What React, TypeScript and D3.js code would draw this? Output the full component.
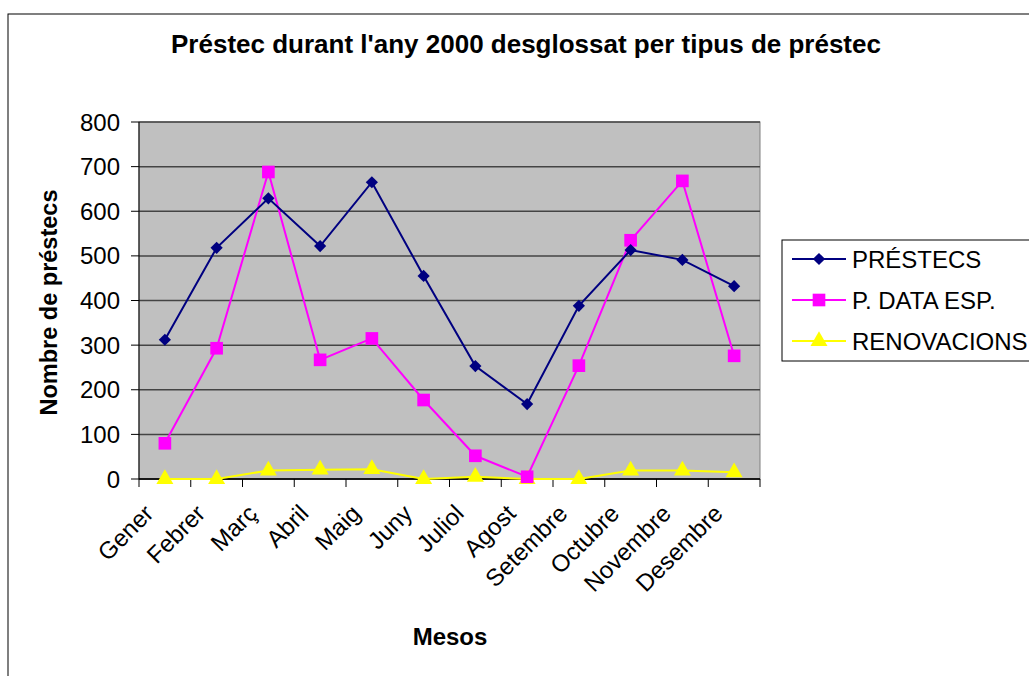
import React from "react";
import * as d3 from "d3";

const months = ["Gener", "Febrer", "Març", "Abril", "Maig", "Juny", "Juliol", "Agost", "Setembre", "Octubre", "Novembre", "Desembre"];
const prestecs = [312, 518, 629, 522, 665, 455, 253, 168, 388, 513, 491, 432];
const dataEsp = [80, 293, 688, 267, 315, 177, 52, 5, 254, 535, 668, 276];
const renovacions = [0, 0, 19, 21, 22, 0, 5, 0, 0, 19, 19, 15];
const yTicks = [0, 100, 200, 300, 400, 500, 600, 700, 800];

const W = 1029;
const H = 676;
const plot = { left: 139, right: 760, top: 122, bottom: 479 };
const FONT = "'Liberation Sans', Arial, sans-serif";

type Marker = "diamond" | "square" | "triangle";

const series: { name: string; values: number[]; color: string; marker: Marker }[] = [
  { name: "PRÉSTECS", values: prestecs, color: "#000080", marker: "diamond" },
  { name: "P. DATA ESP.", values: dataEsp, color: "#FF00FF", marker: "square" },
  { name: "RENOVACIONS", values: renovacions, color: "#FFFF00", marker: "triangle" },
];

const symbolFor = (m: Marker) => {
  if (m === "diamond") return d3.symbol().type(d3.symbolDiamond2).size(95)();
  if (m === "square") return d3.symbol().type(d3.symbolSquare).size(160)();
  return d3.symbol().type(d3.symbolTriangle).size(125)();
};

export default function App() {
  const x = d3.scaleBand<string>().domain(months).range([plot.left, plot.right]);
  const y = d3.scaleLinear().domain([0, 800]).range([plot.bottom, plot.top]);
  const cx = (m: string) => (x(m) ?? 0) + x.bandwidth() / 2;
  const line = d3
    .line<number>()
    .x((_, i) => cx(months[i]))
    .y((d) => y(d));

  const boundaries = months.map((m) => x(m) ?? 0).concat([plot.right]);

  return (
    <svg width={W} height={H} style={{ position: "absolute", left: 0, top: 0, background: "#fff" }} fontFamily={FONT}>
      <rect x={8} y={14} width={W + 10} height={H + 10} fill="#fff" stroke="#000" strokeWidth={1} />

      <text x={526} y={53} textAnchor="middle" fontSize={26} fontWeight="bold">
        Préstec durant l'any 2000 desglossat per tipus de préstec
      </text>

      {/* plot area */}
      <rect x={plot.left} y={plot.top} width={plot.right - plot.left} height={plot.bottom - plot.top} fill="#C0C0C0" stroke="#808080" strokeWidth={1} />
      {yTicks.map((t) => (
        <line key={"g" + t} x1={plot.left} x2={plot.right} y1={y(t)} y2={y(t)} stroke="#444" strokeWidth={1.5} />
      ))}

      {/* y axis */}
      <line x1={plot.left} x2={plot.left} y1={plot.top} y2={plot.bottom} stroke="#000" strokeWidth={1} />
      {yTicks.map((t) => (
        <g key={"y" + t}>
          <line x1={plot.left - 8} x2={plot.left} y1={y(t)} y2={y(t)} stroke="#000" />
          <text x={120} y={y(t) + 8.5} textAnchor="end" fontSize={24}>
            {t}
          </text>
        </g>
      ))}

      {/* x axis */}
      <line x1={plot.left} x2={plot.right} y1={plot.bottom} y2={plot.bottom} stroke="#000" strokeWidth={1.5} />
      {boundaries.map((b, i) => (
        <line key={"xt" + i} x1={b} x2={b} y1={plot.bottom} y2={plot.bottom + 8} stroke="#000" />
      ))}
      {months.map((m) => (
        <text
          key={"xl" + m}
          transform={`translate(${cx(m) - 10},${plot.bottom + 36}) rotate(-45)`}
          textAnchor="end"
          fontSize={24}
        >
          {m}
        </text>
      ))}

      <text transform={`translate(57,${(plot.top + plot.bottom) / 2 + 2}) rotate(-90)`} textAnchor="middle" fontSize={23.5} fontWeight="bold">
        Nombre de préstecs
      </text>
      <text x={450} y={645} textAnchor="middle" fontSize={24} fontWeight="bold">
        Mesos
      </text>

      {/* series */}
      {series
        .slice()
        .reverse()
        .map((s) => (
          <g key={s.name}>
            <path d={line(s.values) ?? ""} fill="none" stroke={s.color} strokeWidth={2} />
            {s.values.map((v, i) => (
              <path key={i} d={symbolFor(s.marker) ?? ""} transform={`translate(${cx(months[i])},${y(v)})`} fill={s.color} />
            ))}
          </g>
        ))}

      {/* legend */}
      <rect x={782} y={240} width={260} height={121} fill="#fff" stroke="#000" strokeWidth={1} />
      {series.map((s, i) => {
        const ly = 259 + i * 41;
        return (
          <g key={"lg" + s.name}>
            <line x1={792} x2={846} y1={ly} y2={ly} stroke={s.color} strokeWidth={2} />
            <path d={symbolFor(s.marker) ?? ""} transform={`translate(819,${ly})`} fill={s.color} />
            <text x={852} y={ly + 8.5} fontSize={24}>
              {s.name}
            </text>
          </g>
        );
      })}
    </svg>
  );
}
